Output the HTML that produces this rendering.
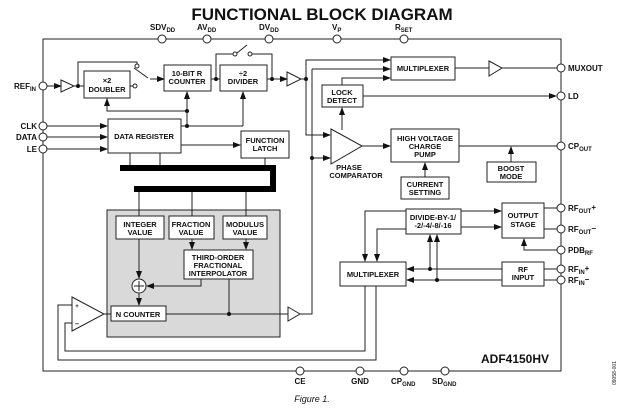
<!DOCTYPE html>
<html><head><meta charset="utf-8"><style>
html,body{margin:0;padding:0;background:#fff;}
svg{display:block;}
text{font-family:"Liberation Sans",sans-serif;font-weight:bold;fill:#111;}
</style></head><body>
<svg width="624" height="413" viewBox="0 0 624 413" xmlns="http://www.w3.org/2000/svg">
<defs>
<marker id="a" markerWidth="8" markerHeight="6" refX="7" refY="3" orient="auto" markerUnits="userSpaceOnUse"><path d="M0,0 L8,3 L0,6 z" fill="#111"/></marker>
</defs>
<text x="322" y="20" font-size="17" text-anchor="middle">FUNCTIONAL BLOCK DIAGRAM</text>
<g stroke="#222" stroke-width="1" fill="none">
<!-- outer box -->
<rect x="43" y="39" width="518" height="332"/>
<!-- gray box -->
<rect x="107" y="210" width="173" height="127" fill="#d9d9d9" stroke="#222"/>
<!-- boxes -->
<rect x="84" y="71" width="46" height="27" fill="#fff"/>
<rect x="164" y="65" width="47" height="26" fill="#fff"/>
<rect x="220" y="65" width="47" height="26" fill="#fff"/>
<rect x="108" y="119" width="73" height="34" fill="#fff"/>
<rect x="241" y="131" width="48" height="27" fill="#fff"/>
<rect x="391" y="57" width="64" height="23" fill="#fff"/>
<rect x="322" y="85" width="41" height="22" fill="#fff"/>
<rect x="391" y="129" width="68" height="33" fill="#fff"/>
<rect x="401" y="177" width="48" height="22" fill="#fff"/>
<rect x="487" y="162" width="49" height="20" fill="#fff"/>
<rect x="116" y="216" width="48" height="23" fill="#fff"/>
<rect x="169" y="216" width="45" height="23" fill="#fff"/>
<rect x="223" y="216" width="44" height="23" fill="#fff"/>
<rect x="184" y="250" width="69" height="29" fill="#fff"/>
<rect x="111" y="306" width="55" height="15" fill="#fff"/>
<rect x="406" y="209" width="55" height="25" fill="#fff"/>
<rect x="502" y="203" width="42" height="35" fill="#fff"/>
<rect x="340" y="262" width="66" height="24" fill="#fff"/>
<rect x="502" y="262" width="42" height="24" fill="#fff"/>
<!-- triangles -->
<path d="M61,80 L74,86 L61,92 z" fill="#fff"/>
<path d="M287,72 L301,79 L287,86 z" fill="#fff"/>
<path d="M489,61 L502,68 L489,76 z" fill="#fff"/>
<path d="M331,129 L362,146 L331,164 z" fill="#fff"/>
<path d="M72,297 L104,314 L72,331 z" fill="#fff"/>
<path d="M288,307 L300,314 L288,321 z" fill="#fff"/>
<!-- refin path -->
<line x1="47" y1="86" x2="61" y2="86" marker-end="url(#a)"/>
<line x1="74" y1="86" x2="84" y2="86"/>
<polyline points="78,86 78,62 137,62 137,66"/>
<line x1="130" y1="86" x2="133" y2="86"/>
<line x1="134" y1="68" x2="148" y2="78"/>
<line x1="150" y1="79" x2="164" y2="79" marker-end="url(#a)"/>
<line x1="211" y1="79" x2="220" y2="79"/>
<polyline points="216,79 216,54 233,54"/>
<line x1="237" y1="53" x2="247" y2="45"/>
<polyline points="252,54 272,54 272,79"/>
<line x1="267" y1="79" x2="287" y2="79" marker-end="url(#a)"/>
<line x1="301" y1="79" x2="306" y2="79"/>
<!-- control lines -->
<polyline points="107,98 107,111 187,111"/>
<line x1="107" y1="111" x2="107" y2="99" marker-end="url(#a)"/>
<line x1="187" y1="126" x2="187" y2="92" marker-end="url(#a)"/>
<line x1="181" y1="126" x2="243" y2="126"/>
<line x1="243" y1="126" x2="243" y2="92" marker-end="url(#a)"/>
<line x1="47" y1="126" x2="107" y2="126" marker-end="url(#a)"/>
<line x1="47" y1="137" x2="107" y2="137" marker-end="url(#a)"/>
<line x1="47" y1="149" x2="107" y2="149" marker-end="url(#a)"/>
<line x1="181" y1="145" x2="240" y2="145" marker-end="url(#a)"/>
<line x1="130" y1="153" x2="130" y2="166"/>
<line x1="160" y1="153" x2="160" y2="166"/>
<line x1="265" y1="158" x2="265" y2="166"/>
<line x1="139" y1="192" x2="139" y2="216"/>
<line x1="192" y1="192" x2="192" y2="216"/>
<line x1="246" y1="192" x2="246" y2="216"/>
<!-- right side signal lines -->
<polyline points="306,79 306,60 390,60"/>
<line x1="380" y1="60" x2="390" y2="60" marker-end="url(#a)"/>
<polyline points="312,69 390,69"/>
<line x1="380" y1="69" x2="390" y2="69" marker-end="url(#a)"/>
<polyline points="342,85 342,78 390,78"/>
<line x1="380" y1="78" x2="390" y2="78" marker-end="url(#a)"/>
<polyline points="306,79 306,135 330,135"/>
<line x1="320" y1="135" x2="330" y2="135" marker-end="url(#a)"/>
<polyline points="312,69 312,314 300,314"/>
<line x1="312" y1="158" x2="330" y2="158" marker-end="url(#a)"/>
<line x1="342" y1="130" x2="342" y2="108" marker-end="url(#a)"/>
<line x1="455" y1="68" x2="489" y2="68"/>
<line x1="502" y1="68" x2="557" y2="68"/>
<line x1="363" y1="96" x2="556" y2="96" marker-end="url(#a)"/>
<line x1="362" y1="146" x2="390" y2="146" marker-end="url(#a)"/>
<line x1="459" y1="146" x2="557" y2="146"/>
<line x1="511" y1="162" x2="511" y2="147" marker-end="url(#a)"/>
<line x1="425" y1="177" x2="425" y2="163" marker-end="url(#a)"/>
<!-- gray box internals -->
<line x1="139" y1="239" x2="139" y2="278" marker-end="url(#a)"/>
<line x1="192" y1="239" x2="192" y2="249" marker-end="url(#a)"/>
<line x1="246" y1="239" x2="246" y2="249" marker-end="url(#a)"/>
<polyline points="201,279 201,286 147,286"/>
<line x1="155" y1="286" x2="147" y2="286" marker-end="url(#a)"/>
<circle cx="139" cy="286" r="7" fill="#fff"/>
<line x1="139" y1="281" x2="139" y2="291"/>
<line x1="134" y1="286" x2="144" y2="286"/>
<line x1="139" y1="293" x2="139" y2="305" marker-end="url(#a)"/>
<line x1="166" y1="314" x2="288" y2="314"/>
<line x1="229" y1="279" x2="229" y2="314"/>
<line x1="104" y1="314" x2="111" y2="314"/>
<!-- feedback -->
<polyline points="72,305 58,305 58,360 376,360 376,286"/>
<polyline points="72,323 65,323 65,351 365,351 365,286"/>
<!-- rf section -->
<polyline points="406,211 365,211 365,261"/>
<line x1="365" y1="250" x2="365" y2="261" marker-end="url(#a)"/>
<polyline points="406,229 377,229 377,261"/>
<line x1="377" y1="250" x2="377" y2="261" marker-end="url(#a)"/>
<line x1="461" y1="211" x2="501" y2="211" marker-end="url(#a)"/>
<line x1="461" y1="227" x2="501" y2="227" marker-end="url(#a)"/>
<line x1="544" y1="208" x2="557" y2="208"/>
<line x1="544" y1="229" x2="557" y2="229"/>
<polyline points="557,250 524,250 524,239"/>
<line x1="524" y1="245" x2="524" y2="239" marker-end="url(#a)"/>
<line x1="502" y1="269" x2="407" y2="269" marker-end="url(#a)"/>
<line x1="502" y1="280" x2="407" y2="280" marker-end="url(#a)"/>
<line x1="430" y1="269" x2="430" y2="235" marker-end="url(#a)"/>
<line x1="437" y1="280" x2="437" y2="235" marker-end="url(#a)"/>
<line x1="544" y1="269" x2="557" y2="269"/>
<line x1="544" y1="280" x2="557" y2="280"/>
</g>
<!-- bus -->
<path d="M120,165 H276 V192 H134 V186 H270 V171 H120 z" fill="#000"/>
<!-- dots -->
<g fill="#111">
<circle cx="78" cy="86" r="2"/><circle cx="216" cy="79" r="2"/><circle cx="272" cy="79" r="2"/>
<circle cx="306" cy="79" r="2"/><circle cx="312" cy="158" r="2"/><circle cx="187" cy="111" r="2"/>
<circle cx="187" cy="126" r="2"/><circle cx="229" cy="314" r="2"/><circle cx="430" cy="269" r="2"/>
<circle cx="437" cy="280" r="2"/>
</g>
<!-- pins -->
<g fill="#fff" stroke="#222" stroke-width="1">
<circle cx="162" cy="39" r="4"/><circle cx="207" cy="39" r="4"/><circle cx="269" cy="39" r="4"/>
<circle cx="337" cy="39" r="4"/><circle cx="404" cy="39" r="4"/>
<circle cx="43" cy="86" r="4"/><circle cx="43" cy="126" r="4"/><circle cx="43" cy="137" r="4"/><circle cx="43" cy="149" r="4"/>
<circle cx="561" cy="68" r="4"/><circle cx="561" cy="96" r="4"/><circle cx="561" cy="146" r="4"/>
<circle cx="561" cy="208" r="4"/><circle cx="561" cy="229" r="4"/><circle cx="561" cy="250" r="4"/>
<circle cx="561" cy="269" r="4"/><circle cx="561" cy="280" r="4"/>
<circle cx="300" cy="371" r="4"/><circle cx="360" cy="371" r="4"/><circle cx="404" cy="371" r="4"/><circle cx="445" cy="371" r="4"/>
<circle cx="135" cy="86" r="2"/><circle cx="137" cy="66" r="2"/><circle cx="235" cy="54" r="2"/><circle cx="250" cy="54" r="2"/>
</g>
<g font-size="8">
<text x="150" y="30">SDV<tspan font-size="6" dy="2">DD</tspan></text>
<text x="197" y="30">AV<tspan font-size="6" dy="2">DD</tspan></text>
<text x="259" y="30">DV<tspan font-size="6" dy="2">DD</tspan></text>
<text x="332" y="30">V<tspan font-size="6" dy="2">P</tspan></text>
<text x="395" y="30">R<tspan font-size="6" dy="2">SET</tspan></text>
<text x="14" y="89">REF<tspan font-size="6" dy="2">IN</tspan></text>
<text x="37" y="129" text-anchor="end">CLK</text>
<text x="37" y="140" text-anchor="end">DATA</text>
<text x="37" y="152" text-anchor="end">LE</text>
<text x="568" y="71">MUXOUT</text>
<text x="568" y="99">LD</text>
<text x="568" y="149">CP<tspan font-size="6" dy="2">OUT</tspan></text>
<text x="568" y="211">RF<tspan font-size="6" dy="2">OUT</tspan><tspan dy="-3">+</tspan></text>
<text x="568" y="232">RF<tspan font-size="6" dy="2">OUT</tspan><tspan dy="-3">−</tspan></text>
<text x="568" y="253">PDB<tspan font-size="6" dy="2">RF</tspan></text>
<text x="568" y="272">RF<tspan font-size="6" dy="2">IN</tspan><tspan dy="-3">+</tspan></text>
<text x="568" y="283">RF<tspan font-size="6" dy="2">IN</tspan><tspan dy="-3">−</tspan></text>
<text x="300" y="384" text-anchor="middle">CE</text>
<text x="360" y="384" text-anchor="middle">GND</text>
<text x="391" y="384">CP<tspan font-size="6" dy="2">GND</tspan></text>
<text x="432" y="384">SD<tspan font-size="6" dy="2">GND</tspan></text>
</g>
<g font-size="7.5" text-anchor="middle">
<text x="107" y="83">×2</text><text x="107" y="92">DOUBLER</text>
<text x="187" y="76">10-BIT R</text><text x="187" y="84">COUNTER</text>
<text x="243" y="76">÷2</text><text x="243" y="84">DIVIDER</text>
<text x="144" y="139">DATA REGISTER</text>
<text x="265" y="143">FUNCTION</text><text x="265" y="151">LATCH</text>
<text x="423" y="71">MULTIPLEXER</text>
<text x="342" y="95">LOCK</text><text x="342" y="103">DETECT</text>
<text x="425" y="141">HIGH VOLTAGE</text><text x="425" y="149">CHARGE</text><text x="425" y="157">PUMP</text>
<text x="349" y="170">PHASE</text><text x="356" y="178">COMPARATOR</text>
<text x="425" y="187">CURRENT</text><text x="425" y="195">SETTING</text>
<text x="511" y="171">BOOST</text><text x="511" y="179">MODE</text>
<text x="140" y="227">INTEGER</text><text x="140" y="235">VALUE</text>
<text x="191" y="227">FRACTION</text><text x="191" y="235">VALUE</text>
<text x="245" y="227">MODULUS</text><text x="245" y="235">VALUE</text>
<text x="218" y="260">THIRD-ORDER</text><text x="218" y="268">FRACTIONAL</text><text x="218" y="276">INTERPOLATOR</text>
<text x="138" y="317">N COUNTER</text>
<text x="433" y="220">DIVIDE-BY-1/</text><text x="433" y="228">-2/-4/-8/-16</text>
<text x="523" y="218">OUTPUT</text><text x="523" y="227">STAGE</text>
<text x="373" y="277">MULTIPLEXER</text>
<text x="523" y="272">RF</text><text x="523" y="280">INPUT</text>
<text x="77" y="308" font-size="6">+</text><text x="77" y="326" font-size="7">–</text>
</g>
<text x="481" y="363" font-size="12">ADF4150HV</text>
<text x="312" y="402" font-size="9" font-weight="normal" font-style="italic" text-anchor="middle" style="font-weight:normal">Figure 1.</text>
<text x="616" y="385" font-size="5" transform="rotate(-90 616 385)" style="font-weight:normal">09058-001</text>
</svg>
</body></html>
